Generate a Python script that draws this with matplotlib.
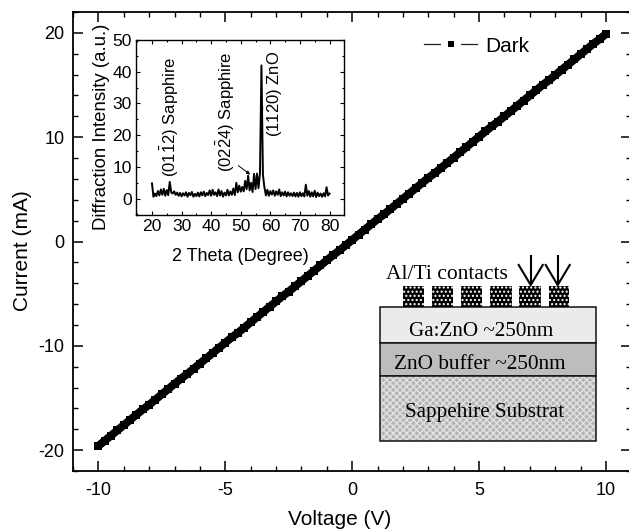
import numpy as np
import matplotlib
matplotlib.use("Agg")
import matplotlib.pyplot as plt
from matplotlib.lines import Line2D
from matplotlib.legend_handler import HandlerTuple
from matplotlib.patches import Rectangle
from matplotlib.ticker import MultipleLocator

W, H = 629, 531
plt.rcParams['font.family'] = ['Liberation Sans', 'DejaVu Sans']
plt.rcParams['mathtext.fontset'] = 'custom'
plt.rcParams['mathtext.rm'] = 'Liberation Sans'
plt.rcParams['mathtext.default'] = 'rm'
plt.rcParams['hatch.linewidth'] = 1.0
plt.rcParams['axes.unicode_minus'] = False

voltage = [-10.0, -9.75, -9.5, -9.25, -9.0, -8.75, -8.5, -8.25, -8.0, -7.75, -7.5, -7.25, -7.0, -6.75,
           -6.5, -6.25, -6.0, -5.75, -5.5, -5.25, -5.0, -4.75, -4.5, -4.25, -4.0, -3.75, -3.5, -3.25,
           -3.0, -2.75, -2.5, -2.25, -2.0, -1.75, -1.5, -1.25, -1.0, -0.75, -0.5, -0.25, 0.0,
           0.25, 0.5, 0.75, 1.0, 1.25, 1.5, 1.75, 2.0, 2.25, 2.5, 2.75, 3.0, 3.25, 3.5, 3.75, 4.0,
           4.25, 4.5, 4.75, 5.0, 5.25, 5.5, 5.75, 6.0, 6.25, 6.5, 6.75, 7.0, 7.25, 7.5, 7.75, 8.0,
           8.25, 8.5, 8.75, 9.0, 9.25, 9.5, 9.75, 10.0]
current = [-19.6, -19.1, -18.6, -18.1, -17.6, -17.1, -16.6, -16.1, -15.65, -15.15, -14.65, -14.15, -13.65, -13.15,
           -12.7, -12.2, -11.7, -11.2, -10.7, -10.2, -9.7, -9.2, -8.75, -8.25, -7.75, -7.25, -6.75, -6.25,
           -5.75, -5.25, -4.8, -4.3, -3.8, -3.3, -2.8, -2.3, -1.8, -1.3, -0.85, -0.35, 0.15,
           0.65, 1.15, 1.65, 2.15, 2.6, 3.1, 3.6, 4.1, 4.6, 5.1, 5.6, 6.1, 6.55, 7.05, 7.55, 8.05,
           8.55, 9.05, 9.55, 10.05, 10.55, 11.05, 11.5, 12.0, 12.5, 13.0, 13.5, 14.0, 14.5, 15.0,
           15.45, 15.95, 16.45, 16.95, 17.45, 17.95, 18.45, 18.95, 19.4, 19.9]

x_major = [-10, -5, 0, 5, 10]
y_major = [-20, -10, 0, 10, 20]

theta = [20.0 + 0.5 * i for i in range(121)]
intensity = [4.8, 0.6, 1.6, 0.8, 2.4, 1.0, 2.9, 1.2, 3.1, 0.9, 2.7, 1.1, 5.3, 2.0, 1.6, 2.3, 1.2, 1.9, 0.9, 1.8,
             0.7, 1.7, 1.0, 2.0, 0.6, 1.8, 1.1, 2.1, 0.6, 1.5, 0.8, 1.9, 0.7, 2.0, 1.0, 2.2, 0.8, 1.8, 1.1, 2.6,
             0.9, 2.8, 1.2, 2.0, 0.8, 2.9, 1.0, 2.4, 0.6, 1.9, 1.0, 2.8, 1.0, 2.3, 1.2, 3.2, 1.1, 5.0, 2.0, 4.1,
             2.2, 3.7, 2.3, 5.6, 3.0, 7.2, 2.6, 5.0, 2.1, 7.8, 3.0, 7.9, 3.3, 8.0, 42.0, 7.5, 3.6, 1.0, 2.8, 0.9,
             2.4, 1.3, 2.6, 0.9, 2.3, 1.2, 2.9, 0.8, 2.0, 1.0, 2.2, 0.7, 2.0, 0.9, 1.7, 0.8, 1.9, 0.7, 1.8, 0.6,
             2.0, 0.8, 1.7, 0.7, 4.4, 0.9, 2.4, 0.6, 2.0, 0.7, 2.5, 0.5, 1.9, 0.8, 1.6, 0.6, 1.7, 0.7, 3.6, 1.0, 1.6]

labels_inset = ['(01$\\bar{1}$2) Sapphire', '(02$\\bar{2}$4) Sapphire', '(11$\\bar{2}$0) ZnO']


def px_axes(fig, l, t, r, b):
    return fig.add_axes([l / W, 1 - b / H, (r - l) / W, (b - t) / H])


fig = plt.figure(figsize=(W / 100, H / 100), dpi=100)
ax = px_axes(fig, 73, 12, 631.4, 471)
ax.set_xlim(-11, 11)
ax.set_ylim(-22, 22)
ax.plot(voltage, current, '-', color='black', lw=5.8, marker='s', ms=5.4, mew=0, solid_capstyle='butt')
ax.set_xticks(x_major)
ax.set_yticks(y_major)
ax.xaxis.set_minor_locator(MultipleLocator(1))
ax.yaxis.set_minor_locator(MultipleLocator(2))
ax.tick_params(which='major', direction='in', top=True, right=True, length=7, width=1.1, labelsize=13, pad=6)
ax.tick_params(axis='x', which='major', pad=8)
ax.tick_params(which='minor', direction='in', top=True, right=True, length=3.6, width=1.0)
ax.set_xlabel('Voltage (V)', fontsize=15, labelpad=7.5)
ax.xaxis.label.set_x((340 - 73) / 558.4)
ax.set_ylabel('Current (mA)', fontsize=15, labelpad=5)
ax.yaxis.label.set_y((471 - 251) / 459)
for s in ax.spines.values():
    s.set_linewidth(1.3)

# Legend
h_line = Line2D([], [], color='#222222', lw=0.9)
h_gap = Line2D([], [], ls='none', marker='s', ms=14, color='white', mew=0)
h_mark = Line2D([], [], ls='none', marker='s', ms=4.6, color='black', mew=0)
ax.legend([(h_line, h_gap, h_mark)], ['Dark'], handler_map={tuple: HandlerTuple(ndivide=1, pad=0)},
          loc='center left', bbox_to_anchor=((420 - 73) / 558.4, 1 - (46 - 12) / 459), frameon=False,
          fontsize=15, handlelength=2.55, handletextpad=0.36, borderpad=0, borderaxespad=0.2)

# Inset
ins = px_axes(fig, 136, 40, 344.3, 214.5)
ins.patch.set_alpha(0)
ins.set_xlim(14.6, 85)
ins.set_ylim(-5, 50)
ins.plot(theta, intensity, color='black', lw=1.4)
ins.xaxis.set_major_locator(MultipleLocator(10))
ins.xaxis.set_minor_locator(MultipleLocator(5))
ins.yaxis.set_major_locator(MultipleLocator(10))
ins.yaxis.set_minor_locator(MultipleLocator(5))
ins.tick_params(which='major', direction='in', top=True, right=True, length=3, width=0.8, labelsize=12.6, pad=3)
ins.tick_params(which='minor', direction='in', top=True, right=True, length=1.7, width=0.8)
ins.set_xlabel('2 Theta (Degree)', fontsize=13, labelpad=10)
ins.set_ylabel('Diffraction Intensity (a.u.)', fontsize=13.4, labelpad=2)
for s in ins.spines.values():
    s.set_linewidth(1.0)
for xp, yp, txt in zip([26.2, 45.0, 61.3], [6.9, 8.4, 19.5], labels_inset):
    ins.text(xp, yp, txt, rotation=90, ha='center', va='bottom', fontsize=12)
ins.annotate('', xy=(53.2, 7.6), xytext=(49.2, 10.4),
             arrowprops=dict(arrowstyle='-|>', color='black', lw=0.7, mutation_scale=5, shrinkA=0, shrinkB=0))

# Layer schematic, in pixel positions
ov = fig.add_axes([0, 0, 1, 1], facecolor='none')
ov.set_xlim(0, W)
ov.set_ylim(H, 0)
ov.axis('off')
serif = ['Liberation Serif', 'DejaVu Serif']
ov.add_patch(Rectangle((380, 306.5), 215.5, 36.5, fc='#ebebeb', ec='#111111', lw=1.1))
ov.add_patch(Rectangle((380, 343), 215.5, 33, fc='#bdbdbd', ec='#111111', lw=1.1))
ov.add_patch(Rectangle((380, 376), 215.5, 65, fc='#b4b4b4', ec='#e2e2e2', lw=0, hatch='xxxxx'))
ov.add_patch(Rectangle((380, 376), 215.5, 65, fc='none', ec='#111111', lw=1.1))
for left, right in [(403, 424), (432, 453), (461, 482), (490, 511.5), (519, 541), (549, 569)]:
    ov.add_patch(Rectangle((left, 286), right - left, 20.5, fc='black', ec='white', lw=0, hatch='....'))
ov.text(386.5, 279, 'Al/Ti contacts', family=serif, fontsize=15.5, va='baseline', ha='left')
ov.text(480.7, 336, 'Ga:ZnO ~250nm', family=serif, fontsize=15.2, va='baseline', ha='center')
ov.text(480, 369, 'ZnO buffer ~250nm', family=serif, fontsize=15.3, va='baseline', ha='center')
ov.text(485, 416.5, 'Sappehire Substrat', family=serif, fontsize=15.2, va='baseline', ha='center')
for tip in [530.7, 557.7]:
    ov.plot([tip, tip], [255, 285], color='black', lw=1.5, solid_capstyle='butt')
    ov.plot([tip - 12, tip, tip + 12], [265, 285, 265], color='black', lw=1.5)

fig.savefig('out.png', dpi=100)
